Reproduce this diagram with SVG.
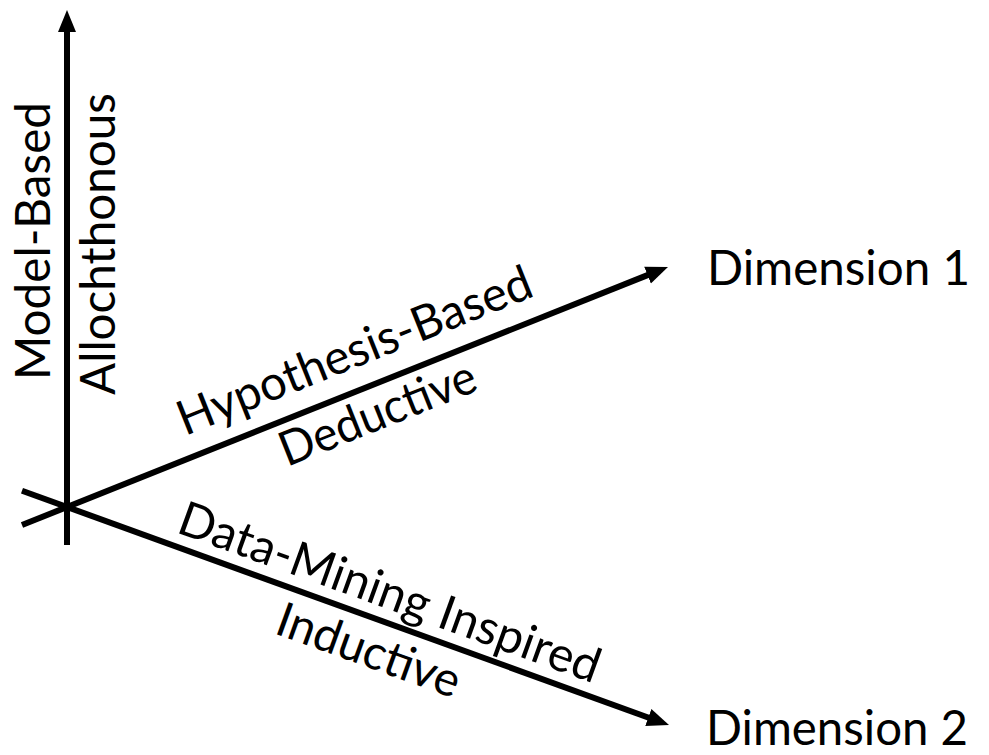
<svg xmlns="http://www.w3.org/2000/svg" width="989" height="755" viewBox="0 0 989 755">
<defs>
<style>
.ax{stroke:#000;stroke-width:6;fill:none}
.t{font-family:Lato,"Open Sans","Liberation Sans",sans-serif;font-size:48px;fill:#000}
</style>
<marker id="ah" markerUnits="userSpaceOnUse" markerWidth="24" markerHeight="20" viewBox="0 0 24 20" refX="2" refY="10" orient="auto">
<path d="M0,1 L22,10 L0,19 z" fill="#000"/>
</marker>
</defs>
<rect width="989" height="755" fill="#fff"/>
<g id="connectors">
<line id="axis-vertical" class="ax" x1="67" y1="545" x2="67" y2="30" marker-end="url(#ah)"/>
<line id="axis-dim1" class="ax" x1="22" y1="525" x2="649.4" y2="274.4" marker-end="url(#ah)"/>
<line id="axis-dim2" class="ax" x1="22" y1="490.7" x2="650.2" y2="718.2" marker-end="url(#ah)"/>
</g>
<g id="label-dimension1"><text class="t" x="707" y="285" textLength="263" lengthAdjust="spacingAndGlyphs">Dimension 1</text></g>
<g id="label-dimension2"><text class="t" x="706" y="745" textLength="262" lengthAdjust="spacingAndGlyphs">Dimension 2</text></g>
<g id="label-model-based"><text class="t" transform="translate(50,380) rotate(-90)" textLength="278" lengthAdjust="spacingAndGlyphs">Model-Based</text></g>
<g id="label-allochthonous"><text class="t" transform="translate(115,395) rotate(-90)" textLength="302" lengthAdjust="spacingAndGlyphs">Allochthonous</text></g>
<g id="label-hypothesis"><text class="t" transform="translate(185,436) rotate(-21.8)" textLength="378" lengthAdjust="spacingAndGlyphs">Hypothesis-Based</text></g>
<g id="label-deductive"><text class="t" transform="translate(287,467) rotate(-21.8)" textLength="208" lengthAdjust="spacingAndGlyphs">Deductive</text></g>
<g id="label-datamining"><text class="t" transform="translate(175,532) rotate(19.9)" textLength="445" lengthAdjust="spacingAndGlyphs">Data-Mining Inspired</text></g>
<g id="label-inductive"><text class="t" transform="translate(273,633) rotate(19.9)" textLength="192" lengthAdjust="spacingAndGlyphs">Inductive</text></g>
</svg>
